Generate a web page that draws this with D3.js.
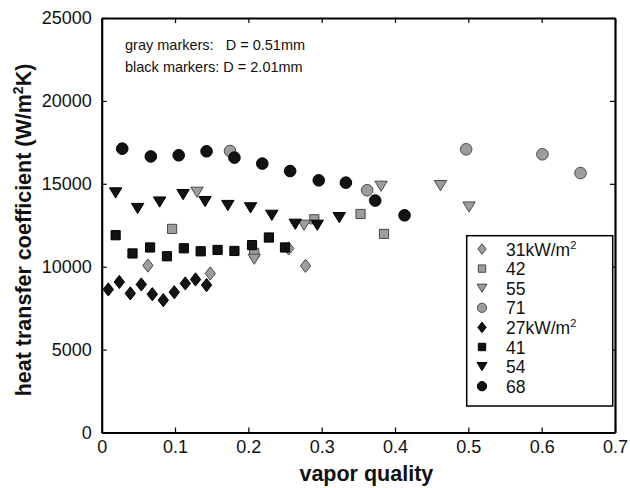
<!DOCTYPE html>
<html>
<head>
<meta charset="utf-8">
<script src="https://cdn.jsdelivr.net/npm/d3@7"></script>
<style>
  body { margin: 0; background: #fff; }
  svg { font-family: "Liberation Sans", Arial, sans-serif; }
</style>
</head>
<body>
<script>
// gray markers: D = 0.51mm
const g31x = [0.063, 0.148, 0.255, 0.278];
const g31y = [10070, 9590, 11100, 10050];
const g42x = [0.096, 0.208, 0.290, 0.353, 0.385];
const g42y = [12280, 10830, 12860, 13180, 11980];
const g55x = [0.130, 0.208, 0.276, 0.381, 0.462, 0.501];
const g55y = [14490, 10450, 12500, 14850, 14890, 13600];
const g71x = [0.175, 0.362, 0.497, 0.601, 0.653];
const g71y = [16980, 14610, 17080, 16780, 15650];
// black markers: D = 2.01mm
const b27x = [0.009, 0.024, 0.039, 0.054, 0.069, 0.084, 0.099, 0.114, 0.128, 0.143];
const b27y = [8630, 9080, 8390, 8930, 8340, 7980, 8460, 8990, 9230, 8890];
const b41x = [0.019, 0.042, 0.066, 0.089, 0.112, 0.135, 0.158, 0.181, 0.205, 0.228, 0.250];
const b41y = [11900, 10800, 11160, 10630, 11110, 10930, 11010, 10950, 11300, 11760, 11160];
const b54x = [0.019, 0.049, 0.079, 0.111, 0.141, 0.172, 0.203, 0.232, 0.264, 0.294, 0.324];
const b54y = [14450, 13510, 13900, 14350, 13930, 13690, 13550, 13100, 12560, 12500, 12960];
const b68x = [0.028, 0.067, 0.105, 0.143, 0.181, 0.219, 0.257, 0.296, 0.333, 0.373, 0.413];
const b68y = [17120, 16650, 16720, 16960, 16580, 16220, 15770, 15210, 15070, 13990, 13100];

const xTicks = [0, 0.1, 0.2, 0.3, 0.4, 0.5, 0.6, 0.7];
const yTicks = [0, 5000, 10000, 15000, 20000, 25000];
const legendLabels = ["31kW/m", "42", "55", "71", "27kW/m", "41", "54", "68"];

const W = 630, H = 488;
const plot = {left: 101.7, right: 615, top: 18, bottom: 432.5};
const gray = {fill: "#9d9d9d", stroke: "#4a4a4a"};
const black = {fill: "#121212", stroke: "#000"};

var xScale = d3.scaleLinear().domain([0, 0.7]).range([plot.left, plot.right]);
var yScale = d3.scaleLinear().domain([0, 25000]).range([plot.bottom, plot.top]);

var svg = d3.select("body").append("svg")
    .attr("width", W)
    .attr("height", H);

// marker shapes, s = scale factor
function shapePath(type, s) {
    if (type == "diamond") {
        var w = 5.2 * s, h = 6.6 * s;
        return "M0," + (-h) + "L" + w + ",0L0," + h + "L" + (-w) + ",0Z";
    }
    if (type == "square") {
        var a = 4.6 * s;
        return "M" + (-a) + "," + (-a) + "H" + a + "V" + a + "H" + (-a) + "Z";
    }
    if (type == "triangle") {
        var w = 6.2 * s, h = 5.1 * s;
        return "M" + (-w) + "," + (-h) + "L" + w + "," + (-h) + "L0," + h + "Z";
    }
    var r = 5.8 * s;
    return "M" + r + ",0A" + r + "," + r + " 0 1,1 " + (-r) + ",0A" + r + "," + r + " 0 1,1 " + r + ",0Z";
}

var series = [
    {xs: g31x, ys: g31y, type: "diamond", col: gray},
    {xs: g42x, ys: g42y, type: "square", col: gray},
    {xs: g55x, ys: g55y, type: "triangle", col: gray},
    {xs: g71x, ys: g71y, type: "circle", col: gray},
    {xs: b27x, ys: b27y, type: "diamond", col: black},
    {xs: b41x, ys: b41y, type: "square", col: black},
    {xs: b54x, ys: b54y, type: "triangle", col: black},
    {xs: b68x, ys: b68y, type: "circle", col: black}
];

// axes box with inward ticks
var xAxisB = d3.axisBottom(xScale).tickValues(xTicks).tickSizeInner(-5).tickSizeOuter(0).tickPadding(8)
    .tickFormat(function(d) { return d == 0 ? "0" : d3.format(".1f")(d); });
var xAxisT = d3.axisTop(xScale).tickValues(xTicks).tickSizeInner(-5).tickSizeOuter(0).tickFormat("");
var yAxisL = d3.axisLeft(yScale).tickValues(yTicks).tickSizeInner(-5).tickSizeOuter(0).tickPadding(10)
    .tickFormat(d3.format("d"));
var yAxisR = d3.axisRight(yScale).tickValues(yTicks).tickSizeInner(-5).tickSizeOuter(0).tickFormat("");

function styleAxis(g) {
    g.select(".domain").attr("stroke", "#000").attr("stroke-width", 2.2);
    g.selectAll(".tick line").attr("stroke", "#000").attr("stroke-width", 1.2);
    g.selectAll(".tick text").attr("fill", "#111").style("font-size", "18px")
        .style("font-family", "Liberation Sans, Arial, sans-serif");
}

svg.append("g").attr("transform", "translate(0," + plot.bottom + ")").call(xAxisB).call(styleAxis);
svg.append("g").attr("transform", "translate(0," + plot.top + ")").call(xAxisT).call(styleAxis);
svg.append("g").attr("transform", "translate(" + plot.left + ",0)").call(yAxisL).call(styleAxis);
svg.append("g").attr("transform", "translate(" + plot.right + ",0)").call(yAxisR).call(styleAxis);

// markers
series.forEach(function(s) {
    var pts = s.xs.map(function(x, i) { return [x, s.ys[i]]; });
    svg.append("g").selectAll("path").data(pts).enter().append("path")
        .attr("d", shapePath(s.type, 1))
        .attr("transform", function(d) { return "translate(" + xScale(d[0]) + "," + yScale(d[1]) + ")"; })
        .attr("fill", s.col.fill)
        .attr("stroke", s.col.stroke)
        .attr("stroke-width", 1);
});

// annotation
svg.append("text").attr("x", 125).attr("y", 50).style("font-size", "14.5px").attr("fill", "#111")
    .attr("xml:space", "preserve").text("gray markers:   D = 0.51mm");
svg.append("text").attr("x", 125).attr("y", 72).style("font-size", "14.5px").attr("fill", "#111")
    .text("black markers: D = 2.01mm");

// legend
var legend = svg.append("g");
legend.append("rect")
    .attr("x", 466.7).attr("y", 235.7).attr("width", 146).attr("height", 170.3)
    .attr("fill", "#fff").attr("stroke", "#000").attr("stroke-width", 1.5);

series.forEach(function(s, i) {
    var cy = 249 + i * 19.6;
    legend.append("path")
        .attr("d", shapePath(s.type, 0.8))
        .attr("transform", "translate(482," + cy + ")")
        .attr("fill", s.col.fill).attr("stroke", s.col.stroke).attr("stroke-width", 1);
    var t = legend.append("text").attr("x", 506).attr("y", cy + 6.5)
        .style("font-size", "17.5px").attr("fill", "#111").text(legendLabels[i]);
    if (legendLabels[i].indexOf("kW") > 0) {
        t.append("tspan").attr("dy", -7).style("font-size", "11px").text("2");
    }
});

// axis titles
svg.append("text")
    .attr("x", (plot.left + plot.right) / 2 + 8).attr("y", 481)
    .attr("text-anchor", "middle")
    .style("font-size", "21.5px").style("font-weight", "bold").attr("fill", "#111")
    .text("vapor quality");

var ylab = svg.append("text")
    .attr("transform", "translate(31,230) rotate(-90)")
    .attr("text-anchor", "middle")
    .style("font-size", "21.5px").style("font-weight", "bold").attr("fill", "#111");
ylab.append("tspan").text("heat transfer coefficient (W/m");
ylab.append("tspan").attr("dy", -8).style("font-size", "14px").text("2");
ylab.append("tspan").attr("dy", 8).text("K)");
</script>
</body>
</html>
